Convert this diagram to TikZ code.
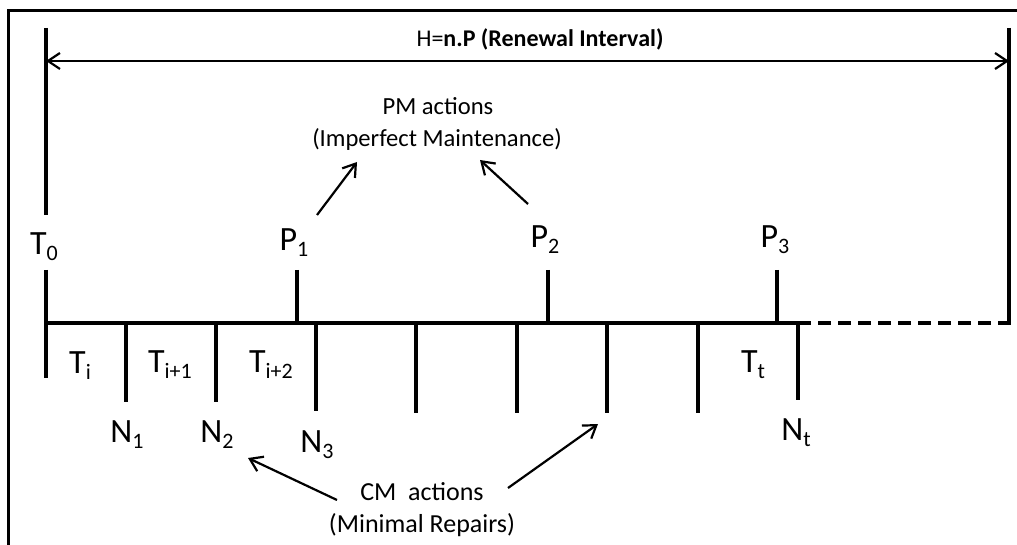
\documentclass[tikz,border=0pt]{standalone}
\usepackage{fontspec}
\setmainfont{Carlito}
\usetikzlibrary{arrows.meta}

\newcommand{\sublbl}[2]{#1\raisebox{-3pt}{\fontsize{11}{12}\selectfont #2}}

\begin{document}
\begin{tikzpicture}[x=0.5pt,y=-0.5pt,
    lbl/.style={font=\fontsize{17}{20}\selectfont, inner sep=0pt, anchor=base},
    txt/.style={font=\fontsize{12.3}{14}\selectfont, inner sep=0pt, anchor=base},
    tickline/.style={line width=1.8pt},
    act/.style={line width=1.1pt, -{Straight Barb[length=6pt,width=8pt]}}]
    \useasboundingbox (0,0) rectangle (1017,545);

    % Draw the frame
    \draw[line width=1.5pt] (1017,11) -- (8,11) -- (8,545);

    % Renewal interval
    \coordinate (h0) at (46,61);
    \coordinate (h1) at (1009,61);
    \draw[tickline] (46,28) -- (46,215);
    \draw[tickline] (1009,28) -- (1009,325);
    \draw[line width=1.1pt, {Straight Barb[length=6pt,width=8pt]}-{Straight Barb[length=6pt,width=8pt]}] (h0) -- (h1);
    \node[txt, font=\fontsize{12}{14}\selectfont] (hlab) at (540,47) {H=\textbf{n.P (Renewal Interval)}};

    % Time axis
    \coordinate (t0) at (46,323);
    \coordinate (tn) at (798,323);
    \coordinate (tend) at (1012,323);
    \draw[line width=2pt] (t0) -- (tn);
    \draw[line width=2pt, dash pattern=on 6.5pt off 3.5pt] (tn) -- (tend);

    % PM ticks and start tick
    \draw[tickline] (46,270) -- (46,378);
    \foreach \x in {297,548,777}
        \draw[tickline] (\x,270) -- (\x,323);

    % CM ticks
    \foreach \x/\y in {126/402,216/402,316/411,416/413,517/413,607/413,698/413,798/400}
        \draw[tickline] (\x,323) -- (\x,\y);

    % Labels above the axis
    \node[lbl] (T0) at (44,255) {\sublbl{T}{0}};
    \node[lbl] (P1) at (294,250) {\sublbl{P}{1}};
    \node[lbl] (P2) at (545,248) {\sublbl{P}{2}};
    \node[lbl] (P3) at (775,248) {\sublbl{P}{3}};

    % Labels below the axis
    \node[lbl] (Ti) at (80,373) {\sublbl{T}{i}};
    \node[lbl] (Ti1) at (170,372) {\sublbl{T}{i+1}};
    \node[lbl] (Ti2) at (271,372) {\sublbl{T}{i+2}};
    \node[lbl] (Tt) at (753,372) {\sublbl{T}{t}};
    \node[lbl] (N1) at (127,442) {\sublbl{N}{1}};
    \node[lbl] (N2) at (217,442) {\sublbl{N}{2}};
    \node[lbl] (N3) at (317,452) {\sublbl{N}{3}};
    \node[lbl] (Nt) at (796,440) {\sublbl{N}{t}};

    % PM actions
    \node[txt] (pm) at (438,115) {PM actions};
    \node[txt] (pmsub) at (437,147) {(Imperfect Maintenance)};
    \coordinate (pa1) at (317,215);
    \coordinate (pb1) at (357,162);
    \coordinate (pa2) at (528,204);
    \coordinate (pb2) at (480,160);
    \draw[act] (pa1) -- (pb1);
    \draw[act] (pa2) -- (pb2);

    % CM actions
    \node[txt, font=\fontsize{13}{15}\selectfont] (cm) at (422,500) {CM\ \ actions};
    \node[txt, font=\fontsize{13}{15}\selectfont] (cmsub) at (422,532) {(Minimal Repairs)};
    \coordinate (ca1) at (337,500);
    \coordinate (cb1) at (248,458);
    \coordinate (ca2) at (508,488);
    \coordinate (cb2) at (598,424);
    \draw[act] (ca1) -- (cb1);
    \draw[act] (ca2) -- (cb2);
\end{tikzpicture}
\end{document}
